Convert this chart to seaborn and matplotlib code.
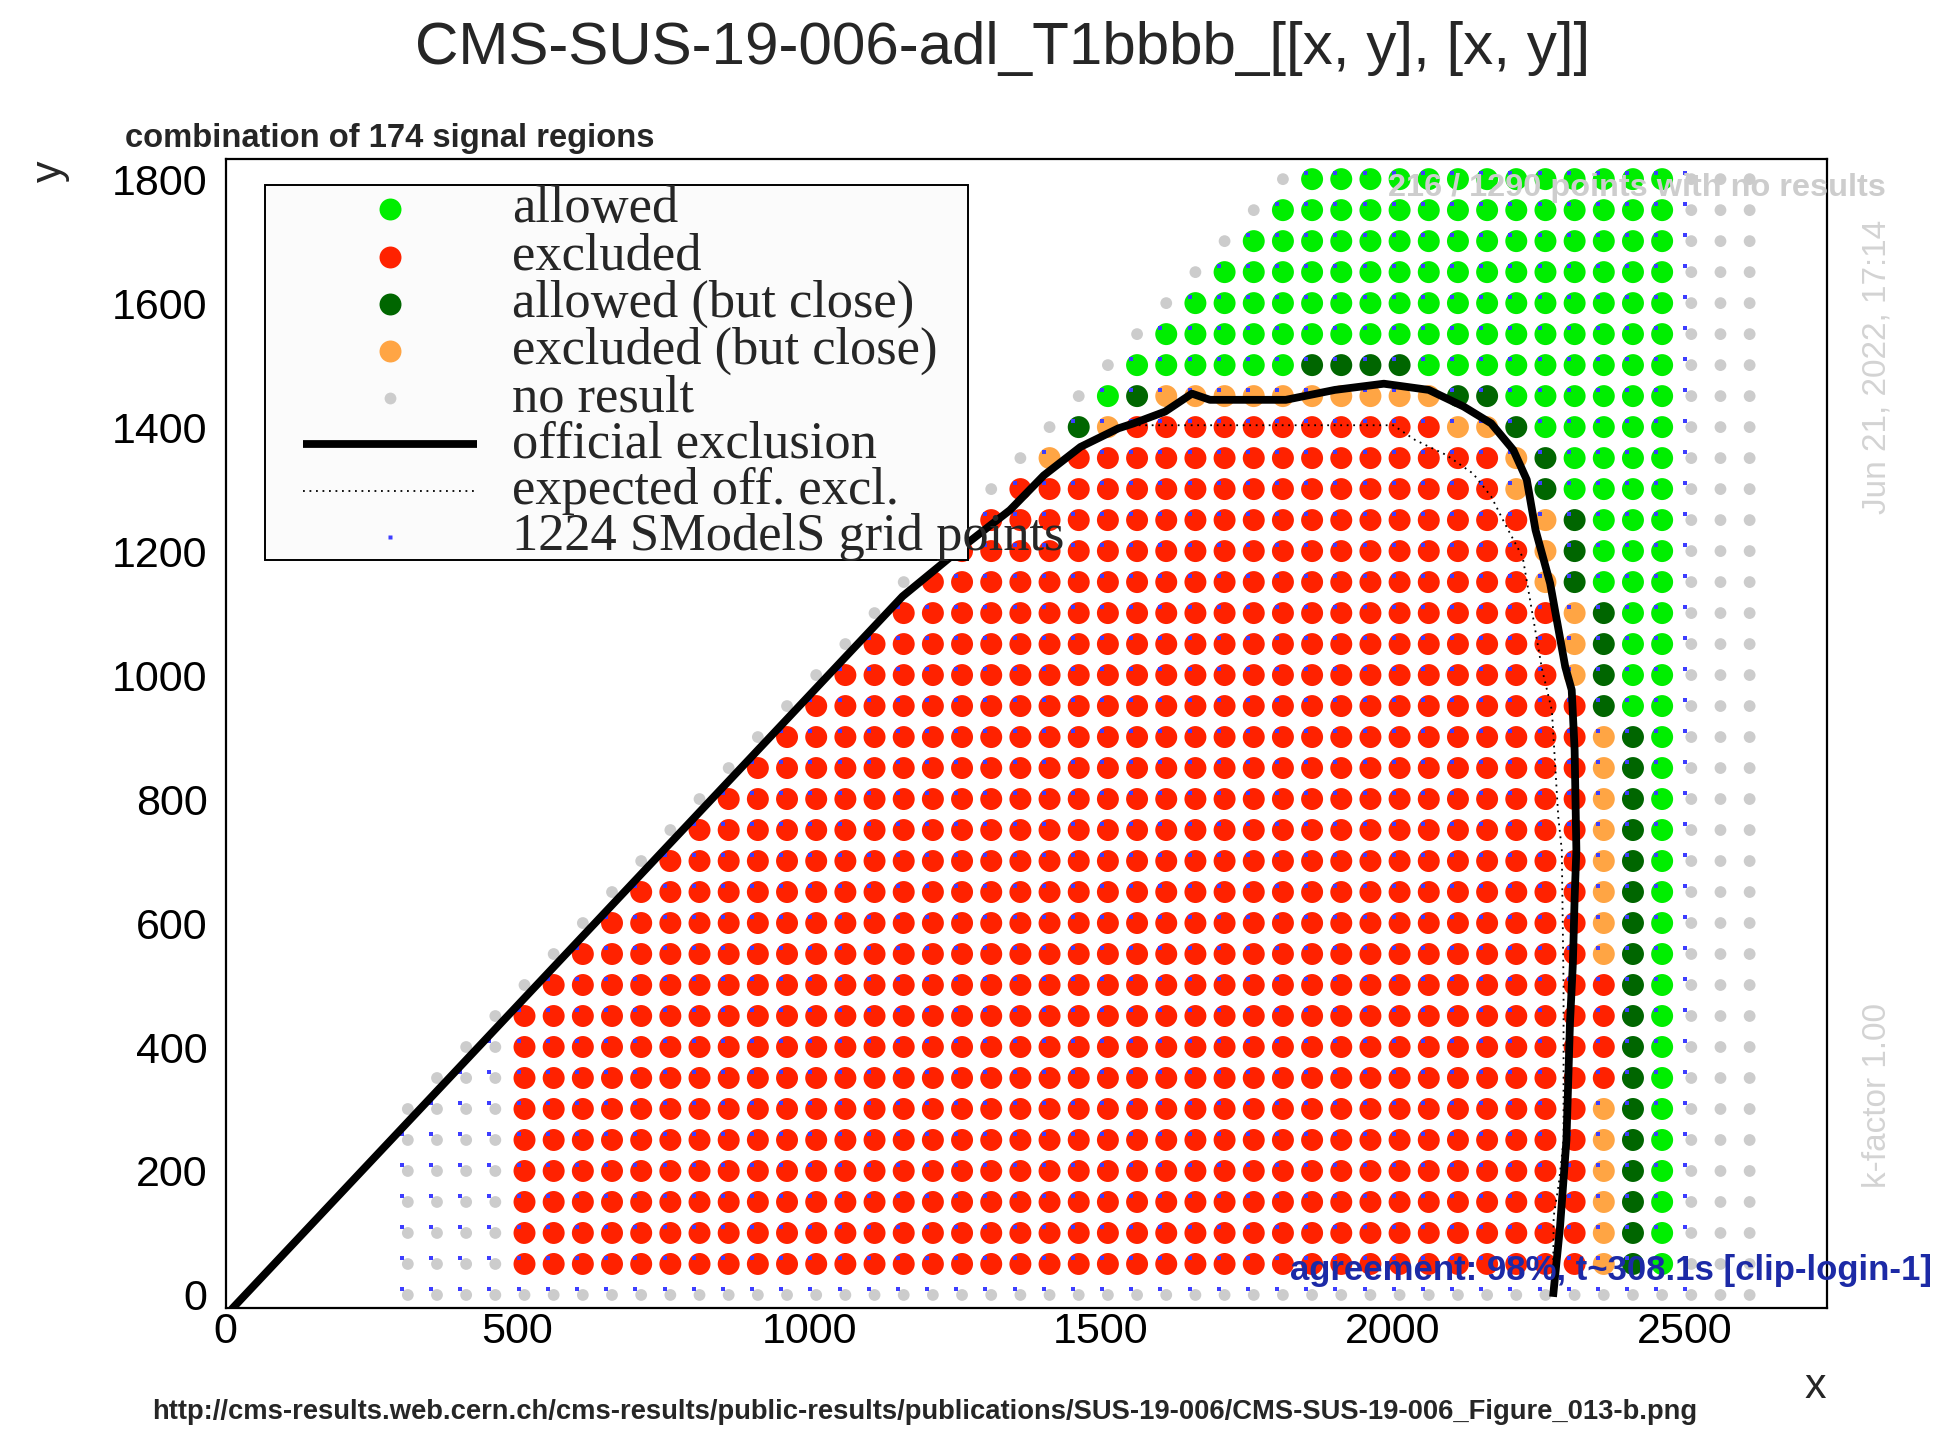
import matplotlib
matplotlib.use("Agg")
import matplotlib.pyplot as plt
from matplotlib.lines import Line2D
from matplotlib.patches import Rectangle
from matplotlib import font_manager as fm
from matplotlib.ticker import MultipleLocator
import pandas as pd
import seaborn as sns

# ---------------------------------------------------------------- data
# grid columns (mass of x) and rows (mass of y)
grid_x = list(range(300, 2650, 50))
row_y = [1800, 1750, 1700, 1650, 1600, 1550, 1500, 1450, 1400, 1350, 1300,
         1250, 1200, 1150, 1100, 1050, 1000, 950, 900, 850, 800, 750, 700,
         650, 600, 550, 500, 450, 400, 350, 300, 250, 200, 150, 100, 50, 0]
# run-length coded status of every grid column in each row
# _ : no point   . : no result   g : allowed   r : excluded
# d : allowed (but close)        o : excluded (but close)
row_runs = [
    "_30 .1 g13 .3",                 # 1800
    "_29 .1 g14 .3",                 # 1750
    "_28 .1 g15 .3",                 # 1700
    "_27 .1 g16 .3",                 # 1650
    "_26 .1 g17 .3",                 # 1600
    "_25 .1 g18 .3",                 # 1550
    "_24 .1 g6 d4 g9 .3",            # 1500
    "_23 .1 g1 d1 o10 d2 g6 .3",     # 1450
    "_22 .1 d1 o1 r11 o2 d1 g5 .3",  # 1400
    "_21 .1 o1 r15 o1 d1 g4 .3",     # 1350
    "_20 .1 r17 o1 d1 g4 .3",        # 1300
    "_19 .1 r19 o1 d1 g3 .3",        # 1250
    "_18 .1 r20 o1 d1 g3 .3",        # 1200
    "_17 .1 r21 o1 d1 g3 .3",        # 1150
    "_16 .1 r23 o1 d1 g2 .3",        # 1100
    "_15 .1 r24 o1 d1 g2 .3",        # 1050
    "_14 .1 r25 o1 d1 g2 .3",        # 1000
    "_13 .1 r27 d1 g2 .3",           # 950
    "_12 .1 r28 o1 d1 g1 .3",        # 900
    "_11 .1 r29 o1 d1 g1 .3",        # 850
    "_10 .1 r30 o1 d1 g1 .3",        # 800
    "_9 .1 r31 o1 d1 g1 .3",         # 750
    "_8 .1 r32 o1 d1 g1 .3",         # 700
    "_7 .1 r33 o1 d1 g1 .3",         # 650
    "_6 .1 r34 o1 d1 g1 .3",         # 600
    "_5 .1 r35 o1 d1 g1 .3",         # 550
    "_4 .1 r37 d1 g1 .3",            # 500
    "_3 .1 r38 d1 g1 .3",            # 450
    "_2 .2 r38 d1 g1 .3",            # 400
    "_1 .3 r38 d1 g1 .3",            # 350
    ".4 r37 o1 d1 g1 .3",            # 300
    ".4 r37 o1 d1 g1 .3",            # 250
    ".4 r37 o1 d1 g1 .3",            # 200
    ".4 r37 o1 d1 g1 .3",            # 150
    ".4 r37 o1 d1 g1 .3",            # 100
    ".4 r37 o1 d1 g1 .3",            # 50
    ".47",                           # 0
]
code_names = {"g": "allowed", "r": "excluded", "d": "allowed (but close)",
              "o": "excluded (but close)", ".": "no result"}
cat_colors = {"allowed": "#00ee00", "excluded": "#ff2200",
              "allowed (but close)": "#006600", "excluded (but close)": "#ffa544",
              "no result": "#cccccc"}
grid_color = "#3d3dff"
grid_max_x = 2500

# official (observed) exclusion curve
obs_x = [10, 1160, 1270, 1344, 1402, 1465, 1530, 1556, 1610, 1656, 1687, 1740,
         1817, 1901, 1985, 2062, 2122, 2169, 2207, 2230, 2245, 2270, 2296, 2307,
         2312, 2315, 2312, 2309, 2304, 2298, 2287, 2275]
obs_y = [-23, 1127, 1212, 1266, 1322, 1368, 1398, 1406, 1425, 1454, 1444, 1444,
         1444, 1460, 1470, 1460, 1433, 1406, 1363, 1315, 1234, 1148, 1013, 976,
         879, 718, 640, 535, 438, 250, 110, -3]
# expected exclusion curve
exp_x = [10, 1190, 1241, 1300, 1344, 1402, 1465, 1530, 1556, 2001, 2039, 2092,
         2138, 2169, 2192, 2223, 2256, 2273, 2284, 2290, 2293, 2293, 2285, 2276, 2275]
exp_y = [-23, 1152, 1190, 1235, 1268, 1320, 1366, 1398, 1403, 1403, 1379, 1355,
         1325, 1288, 1245, 1190, 1010, 943, 771, 718, 500, 250, 180, 126, -3]

x_major = [0, 500, 1000, 1500, 2000, 2500]
y_major = [0, 200, 400, 600, 800, 1000, 1200, 1400, 1600, 1800]

legend_labels = ["allowed", "excluded", "allowed (but close)", "excluded (but close)",
                 "no result", "official exclusion", "expected off. excl.",
                 "1224 SModelS grid points"]

title = "CMS-SUS-19-006-adl_T1bbbb_[[x, y], [x, y]]"
subtitle = "combination of 174 signal regions"
url = ("http://cms-results.web.cern.ch/cms-results/public-results/publications/"
       "SUS-19-006/CMS-SUS-19-006_Figure_013-b.png")
noresult_text = "216 / 1290 points with no results"
date_text = "Jun 21, 2022, 17:14"
kfactor_text = "k-factor 1.00"
agree_text = "agreement: 98%, t~308.1s [clip-login-1]"

# ---------------------------------------------------------------- build table
recs = []
for y, runs in zip(row_y, row_runs):
    codes = []
    for tok in runs.split():
        codes += [tok[0]] * int(tok[1:])
    assert len(codes) == len(grid_x), (y, len(codes))
    for x, c in zip(grid_x, codes):
        if c != "_":
            recs.append({"x": x, "y": y, "cat": code_names[c]})
df = pd.DataFrame(recs)
df_grid = df[(df.x > df.y) & (df.x <= grid_max_x)]

# ROOT draws the status markers slightly shifted w.r.t. the grid markers
PT_DX, PT_DY = 12, 0
GR_DX, GR_DY = 2, 10

# ---------------------------------------------------------------- style
sns.set_style("white")
names = {f.name for f in fm.fontManager.ttflist}
if "Liberation Sans Narrow" in names:
    TICK_FAM, TICK_SIZE = "Liberation Sans Narrow", 37
else:
    TICK_FAM, TICK_SIZE = "Liberation Sans", 31
plt.rcParams["font.family"] = [TICK_FAM, "DejaVu Sans"]

W, H = 1942, 1431
fig = plt.figure(figsize=(W / 100, H / 100), dpi=100)
fig.patch.set_facecolor("white")
L, R, T, B = 225.8, 1827.0, 159.3, 1308.3
ax = fig.add_axes([L / W, 1 - B / H, (R - L) / W, (B - T) / H])
ax.set_facecolor("white")


def P(px, py):
    return px / W, 1 - py / H


sizes = {"allowed": 250, "excluded": 250, "allowed (but close)": 250,
         "excluded (but close)": 250, "no result": 72}
sns.scatterplot(x=df.x + PT_DX, y=df.y + PT_DY, hue=df.cat, palette=cat_colors,
                size=df.cat, sizes=sizes, linewidth=0, legend=False, ax=ax, zorder=2)
sns.scatterplot(x=df_grid.x + GR_DX, y=df_grid.y + GR_DY, marker="s", s=8,
                color=grid_color, linewidth=0, legend=False, ax=ax, zorder=3)
sns.lineplot(x=exp_x, y=exp_y, sort=False, estimator=None, color="black",
             lw=1.3, linestyle=(0, (1, 2.6)), ax=ax, zorder=4)
sns.lineplot(x=obs_x, y=obs_y, sort=False, estimator=None, color="black",
             lw=5.6, ax=ax, zorder=5, solid_capstyle="butt")

ax.set_xlim(0, 2744.6)
ax.set_ylim(-21.5, 1832)
ax.set_xlabel("")
ax.set_ylabel("")
ax.set_xticks(x_major)
ax.set_yticks(y_major)
ax.xaxis.set_minor_locator(MultipleLocator(100))
ax.yaxis.set_minor_locator(MultipleLocator(50))
ax.tick_params(axis="x", which="major", direction="in", length=24.5, width=1.4,
               pad=3, labelsize=TICK_SIZE, colors="black")
ax.tick_params(axis="x", which="minor", direction="in", length=13.7, width=1.4)
ax.tick_params(axis="y", which="major", direction="in", length=34, width=1.4,
               pad=13, labelsize=TICK_SIZE, colors="black")
ax.tick_params(axis="y", which="minor", direction="in", length=18.7, width=1.4)
ax.tick_params(top=False, right=False, which="both")
for s in ax.spines.values():
    s.set_visible(True)
    s.set_color("black")
    s.set_linewidth(1.6)

# ---------------------------------------------------------------- legend (ROOT style box)
x0, y0 = P(265, 560)
x1, y1 = P(968, 185)
fig.add_artist(Rectangle((x0, y0), x1 - x0, y1 - y0, transform=fig.transFigure,
                         facecolor="#fbfbfb", edgecolor="black", lw=1.4, zorder=10))
leg_rows = [209, 257, 304, 351, 398, 444, 491, 537]
marker_specs = [("allowed", 15.8), ("excluded", 15.8), ("allowed (but close)", 15.8),
                ("excluded (but close)", 15.8), ("no result", 8.5)]
for (cat, ms), py in zip(marker_specs, leg_rows[:5]):
    mx, my = P(390, py)
    fig.add_artist(Line2D([mx], [my], transform=fig.transFigure, marker="o", ms=ms,
                          color=cat_colors[cat], mec="none", ls="none", zorder=11))
lx0, ly = P(303, leg_rows[5])
lx1, _ = P(477, leg_rows[5])
fig.add_artist(Line2D([lx0, lx1], [ly, ly], transform=fig.transFigure, color="black",
                      lw=5.6, solid_capstyle="butt", zorder=11))
lx0, ly = P(303, leg_rows[6])
fig.add_artist(Line2D([lx0, lx1], [ly, ly], transform=fig.transFigure, color="black",
                      lw=1.3, ls=(0, (1, 2.6)), zorder=11))
mx, my = P(390, leg_rows[7])
fig.add_artist(Line2D([mx], [my], transform=fig.transFigure, marker="s", ms=2.8,
                      color=grid_color, mec="none", ls="none", zorder=11))
for lab, py in zip(legend_labels, leg_rows):
    tx, ty = P(512, py)
    fig.text(tx, ty, lab, family=["Liberation Serif", "DejaVu Serif"], size=37.8,
             ha="left", va="center", zorder=12)

# ---------------------------------------------------------------- texts
SANS = ["Liberation Sans", "DejaVu Sans"]
fig.text(*P(1003, 64.5), title, family=SANS, size=43.3, ha="center", va="baseline")
fig.text(*P(125, 147), subtitle, family=SANS, size=23.6, weight="bold",
         ha="left", va="baseline")
fig.text(*P(50, 171), "y", family=[TICK_FAM, "DejaVu Sans"], size=TICK_SIZE,
         rotation=90, ha="center", va="center")
fig.text(*P(1815, 1387), "x", family=[TICK_FAM, "DejaVu Sans"], size=TICK_SIZE,
         ha="center", va="center")
fig.text(*P(925, 1419), url, family=SANS, size=19.7, weight="bold",
         ha="center", va="baseline")
fig.text(*P(1388, 196), noresult_text, family=SANS, size=23.4, weight="bold",
         color="#cdcdcd", ha="left", va="baseline", zorder=20)
fig.text(*P(1877, 367), date_text, family=SANS, size=24, color="#d3d3d3",
         rotation=90, ha="center", va="center")
fig.text(*P(1877, 1096), kfactor_text, family=SANS, size=24, color="#d3d3d3",
         rotation=90, ha="center", va="center")
fig.text(*P(1932, 1280), agree_text, family=SANS, size=25, weight="bold",
         color="#1c2aa6", ha="right", va="baseline", zorder=20)

fig.savefig("out.png", dpi=100, facecolor="white")
